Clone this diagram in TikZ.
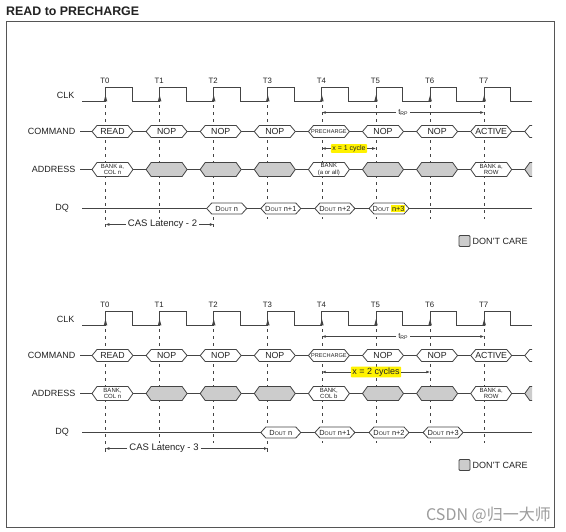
\documentclass[tikz,border=0pt]{standalone}
\usepackage{fontspec}
\setmainfont{Liberation Sans}
\newfontfamily\cjkfont{Noto Sans CJK SC}
\usetikzlibrary{arrows.meta}
\definecolor{linec}{HTML}{444444}
\definecolor{txtc}{HTML}{222222}
\definecolor{dcfill}{HTML}{CCCCCC}
\definecolor{hl}{HTML}{FFF200}
\definecolor{wm}{HTML}{9C9C9C}
\definecolor{framec}{HTML}{555555}

\newcommand\Tx[1]{105.5+54.1*#1}
\newcommand\fss[2]{\fontsize{#1}{#2}\selectfont}
\newcommand\dout{D{\fss{5.3}{6}OUT}}
\newcommand\hexbox[8]{%
  \path[busbox,fill=#6] ({#2-#4},#3) -- ({#2-#4+5},{#3-#5}) -- ({#2+#4-5},{#3-#5}) -- ({#2+#4},#3) -- ({#2+#4-5},{#3+#5}) -- ({#2-#4+5},{#3+#5}) -- cycle;
  \node[#7] (#1) at ({#2},#3) {#8};}
\newcommand\cbox[5]{\hexbox{#1}{\Tx{#2}+7}{131.5}{20.5}{6}{#3}{#4}{#5}}
\newcommand\abox[5]{\hexbox{#1}{\Tx{#2}+7}{169.5}{20.5}{7}{#3}{#4}{#5}}
\newcommand\dbox[3]{\hexbox{#1}{\Tx{#2}+13}{208.5}{20}{5.5}{white}{dtxt}{#3}}

\tikzset{
  sig/.style={draw=linec, line width=0.85pt},
  busbox/.style={draw=linec, line width=0.8pt, line join=miter},
  tdash/.style={draw=linec, line width=0.65pt, dash pattern=on 3pt off 4pt},
  lbl/.style={text=txtc, font=\fss{9}{10}, inner sep=0pt},
  tlbl/.style={text=txtc, font=\fss{7.8}{8}, inner sep=0pt},
  btxt/.style={text=txtc, font=\fss{8.8}{9}, inner sep=0pt},
  ptxt/.style={text=txtc, font=\fss{5.6}{6}, inner sep=0pt},
  stxt/.style={text=txtc, font=\fss{6}{6.3}, inner sep=0pt, align=center},
  dtxt/.style={text=txtc, font=\fss{7.4}{8}, inner sep=0pt},
  dimarrow/.style={draw=linec, line width=0.65pt, -{Latex[length=3.8pt,width=2.8pt]}},
  hlbox/.style={fill=hl, text=txtc, inner xsep=1.5pt, inner ysep=1.2pt, rounded corners=1pt},
  dcbox/.style={draw=linec, fill=dcfill, minimum size=11pt, inner sep=0pt, rounded corners=1pt, line width=0.75pt}
}

% #1 CAS end index, #2 address text at T0, #3 address text at T4
\newcommand\timingbase[3]{%
  \foreach \k in {0,...,7}{%
    \pgfmathsetmacro\yend{(\k==0 || \k==#1) ? 228.5 : 219}%
    \draw[tdash] ({\Tx{\k}},105.5) -- ({\Tx{\k}},\yend);
  }%
  \coordinate (cmdS) at (80,131.5); \coordinate (cmdE) at (532,131.5);
  \coordinate (adrS) at (80,169.5); \coordinate (adrE) at (532,169.5);
  \coordinate (dqS) at (82,208.5); \coordinate (dqE) at (532,208.5);
  \draw[sig] (cmdS) -- (cmdE);
  \draw[sig] (adrS) -- (adrE);
  \draw[sig] (dqS) -- (dqE);
  \begin{scope}
    \clip (0,0) rectangle (532,532);
    \cbox{cmd0}{0}{white}{btxt}{READ}
    \cbox{cmd1}{1}{white}{btxt}{NOP}
    \cbox{cmd2}{2}{white}{btxt}{NOP}
    \cbox{cmd3}{3}{white}{btxt}{NOP}
    \cbox{cmd4}{4}{white}{ptxt}{PRECHARGE}
    \cbox{cmd5}{5}{white}{btxt}{NOP}
    \cbox{cmd6}{6}{white}{btxt}{NOP}
    \cbox{cmd7}{7}{white}{btxt}{ACTIVE}
    \cbox{cmd8}{8}{white}{btxt}{}
    \abox{adr0}{0}{white}{stxt}{#2}
    \abox{adr1}{1}{dcfill}{btxt}{}
    \abox{adr2}{2}{dcfill}{btxt}{}
    \abox{adr3}{3}{dcfill}{btxt}{}
    \abox{adr4}{4}{white}{stxt}{#3}
    \abox{adr5}{5}{dcfill}{btxt}{}
    \abox{adr6}{6}{dcfill}{btxt}{}
    \abox{adr7}{7}{white}{stxt}{BANK a,\\ROW}
    \abox{adr8}{8}{dcfill}{btxt}{}
  \end{scope}
  \coordinate (clkS) at (82,101.5); \coordinate (clkE) at (532,101.5);
  \draw[sig] (clkS) \foreach \k in {0,...,7}{ -- ({\Tx{\k}},101.5) -- ({\Tx{\k}},87.5) -- ({\Tx{\k}+26.5},87.5) -- ({\Tx{\k}+26.5},101.5)} -- (clkE);
  \foreach \k in {0,...,7}{%
    \fill[linec] ({\Tx{\k}},95) -- ++(-1.8,6.5) -- ++(3.6,0) -- cycle;
    \node[tlbl] (T\k) at ({\Tx{\k}-0.5},81) {T\k};
  }%
  \node[lbl,anchor=east] (clk) at (74.5,95) {CLK};
  \node[lbl,anchor=east] (cmd) at (75.5,131.5) {COMMAND};
  \node[lbl,anchor=east] (adr) at (75.5,169.5) {ADDRESS};
  \node[lbl,anchor=east] (dq) at (69,208.5) {DQ};
  \node[text=txtc, inner xsep=2pt, inner ysep=0pt, font=\fss{7.8}{8}] (trp) at (403,112.5) {t\raisebox{-1.2pt}{\fss{5.2}{5}RP}};
  \draw[dimarrow] (trp.west) -- ({\Tx{4}},112.5);
  \draw[dimarrow] (trp.east) -- ({\Tx{7}},112.5);
  \node[dcbox] (dcsq) at (464.5,241) {};
  \node[lbl,anchor=west] (dctxt) at (472.5,241) {DON'T CARE};
}

\begin{document}
\begin{tikzpicture}[x=1pt,y=-1pt]
\useasboundingbox (0,0) rectangle (566,532);
\fill[white] (0,0) rectangle (566,532);
\node[anchor=base west, inner sep=0pt, font=\bfseries\fss{12.4}{14}, text=txtc] (title) at (6,15.5) {READ to PRECHARGE};
\draw[framec, line width=0.9pt] (6,21) rectangle (554,527);

\begin{scope}[name prefix=a-]
  \timingbase{2}{BANK a,\\COL n}{BANK\\(a or all)}
  \dbox{dq2}{2}{\dout\ n}
  \dbox{dq3}{3}{\dout\ n+1}
  \dbox{dq4}{4}{\dout\ n+2}
  \dbox{dq5}{5}{\dout\ {\setlength\fboxsep{0.7pt}\colorbox{hl}{n+3}}}
  \node[hlbox, font=\fss{7}{8}] (xc) at (349,148.5) {x = 1 cycle};
  \draw[dimarrow] (xc.west) -- ({\Tx{4}},148.5);
  \draw[dimarrow] (xc.east) -- ({\Tx{5}},148.5);
  \node[text=txtc, inner xsep=2pt, inner ysep=0pt, font=\fss{9.5}{10}] (cas) at (162.5,224.5) {CAS Latency - 2};
  \draw[dimarrow] (cas.west) -- ({\Tx{0}},224.5);
  \draw[dimarrow] (cas.east) -- ({\Tx{2}},224.5);
\end{scope}

\begin{scope}[yshift=-224pt, name prefix=b-]
  \timingbase{3}{BANK,\\COL n}{BANK,\\COL b}
  \dbox{dq3}{3}{\dout\ n}
  \dbox{dq4}{4}{\dout\ n+1}
  \dbox{dq5}{5}{\dout\ n+2}
  \dbox{dq6}{6}{\dout\ n+3}
  \node[hlbox, font=\fss{9}{10}] (xc) at (376,148) {x = 2 cycles};
  \draw[dimarrow] (xc.west) -- ({\Tx{4}},148);
  \draw[dimarrow] (xc.east) -- ({\Tx{6}},148);
  \node[text=txtc, inner xsep=2pt, inner ysep=0pt, font=\fss{9.5}{10}] (cas) at (164,224.5) {CAS Latency - 3};
  \draw[dimarrow] (cas.west) -- ({\Tx{0}},224.5);
  \draw[dimarrow] (cas.east) -- ({\Tx{3}},224.5);
\end{scope}

\node[anchor=east, inner sep=0pt, text=wm, font=\cjkfont\fss{16}{18}] (wmark) at (551,515) {CSDN @归一大师};
\end{tikzpicture}
\end{document}
